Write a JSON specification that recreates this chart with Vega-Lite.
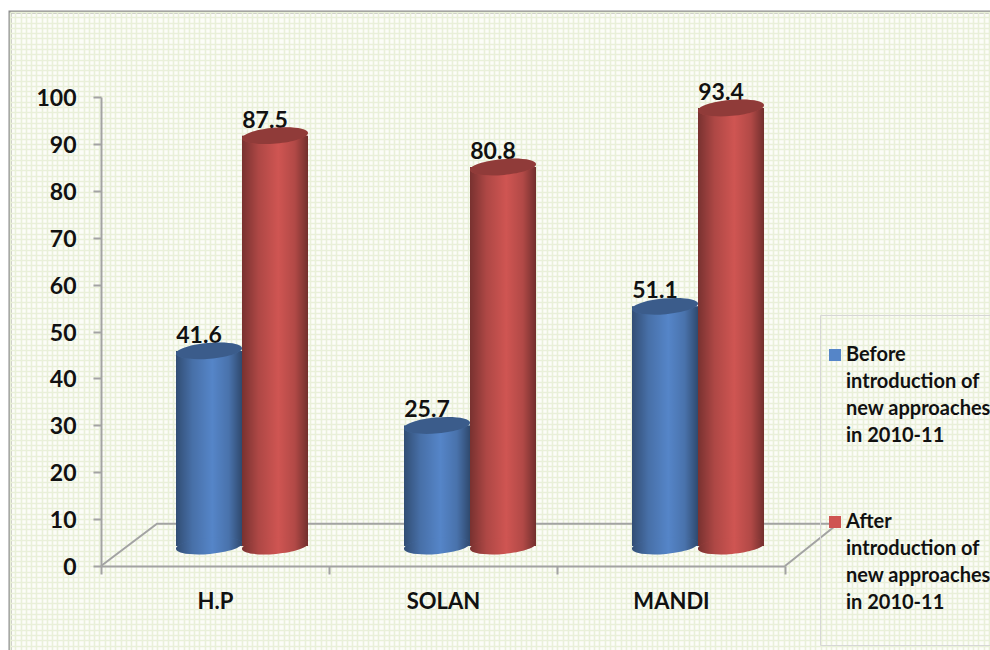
{
  "$schema": "https://vega.github.io/schema/vega-lite/v6.json",
  "width": 1000,
  "height": 660,
  "autosize": "none",
  "padding": {"left": 10, "top": 12, "right": 0, "bottom": 0},
  "background": "white",
  "config": {"view": {"fill": "#fcfdf8", "stroke": "#8c8c8c", "strokeWidth": 3}},
  "data": {"values": [
    {"region": "H.P", "series": "Before", "value": 41.6},
    {"region": "H.P", "series": "After", "value": 87.5},
    {"region": "SOLAN", "series": "Before", "value": 25.7},
    {"region": "SOLAN", "series": "After", "value": 80.8},
    {"region": "MANDI", "series": "Before", "value": 51.1},
    {"region": "MANDI", "series": "After", "value": 93.4}
  ]},
  "resolve": {
    "scale": {"x": "independent", "y": "independent"},
    "axis": {"x": "independent", "y": "independent"}
  },
  "layer": [
    {
      "description": "Fine woven background, built from two dense grids",
      "mark": {"type": "point", "opacity": 0},
      "encoding": {
        "x": {"datum": 0, "type": "quantitative",
          "scale": {"domain": [0, 190], "range": [0, 1000], "nice": false},
          "axis": {"title": null, "grid": true, "gridColor": "#e9f0d9", "gridWidth": 1.6, "tickCount": 190, "labels": false, "ticks": false, "domain": false, "orient": "top"}},
        "y": {"datum": 0, "type": "quantitative",
          "scale": {"domain": [0, 125], "range": [660, 0], "nice": false},
          "axis": {"title": null, "grid": true, "gridColor": "#e9f0d9", "gridWidth": 1.6, "tickCount": 125, "labels": false, "ticks": false, "domain": false, "orient": "right"}}
      }
    },
    {
      "description": "Floor of the 3-D plot; x counts category widths from the axis origin",
      "data": {"values": [
        {"step": 1, "cx": 0, "level": 0},
        {"step": 2, "cx": 0.2456, "level": 9},
        {"step": 3, "cx": 3.232, "level": 9},
        {"step": 4, "cx": 3, "level": 0}
      ]},
      "mark": {"type": "line", "color": "#a3a3a3", "strokeWidth": 2},
      "encoding": {
        "x": {"field": "cx", "type": "quantitative", "scale": {"domain": [0, 3], "range": [91, 775], "nice": false, "zero": false}, "axis": null},
        "y": {"field": "level", "type": "quantitative", "scale": {"domain": [0, 100], "range": [554, 85], "nice": false}, "axis": null},
        "order": {"field": "step", "type": "quantitative"}
      }
    },
    {
      "description": "Cylinders, value labels, axes and legend on the shared scales",
      "encoding": {
        "x": {"field": "region", "type": "nominal", "sort": null,
          "scale": {"type": "band", "domain": ["H.P", "SOLAN", "MANDI"], "range": [91, 775], "paddingInner": 0, "paddingOuter": 0},
          "axis": {"title": null, "orient": "bottom", "offset": -106, "labelAngle": 0, "tickBand": "extent", "tickColor": "#a3a3a3", "tickWidth": 2, "tickSize": 8, "domainColor": "#a3a3a3", "domainWidth": 2, "labelFont": "Lato", "labelFontWeight": "bold", "labelFontSize": 22, "labelColor": "#111111", "labelPadding": 17, "grid": false}},
        "xOffset": {"field": "series", "type": "nominal", "sort": null, "scale": {"domain": ["Before", "After"], "range": [75, 207]}},
        "y": {"field": "value", "type": "quantitative",
          "scale": {"domain": [0, 100], "range": [554, 85], "nice": false},
          "axis": {"title": null, "orient": "left", "offset": -91, "values": [0, 10, 20, 30, 40, 50, 60, 70, 80, 90, 100], "tickColor": "#a3a3a3", "tickWidth": 2, "tickSize": 8, "domainColor": "#a3a3a3", "domainWidth": 2, "labelFont": "Lato", "labelFontWeight": "bold", "labelFontSize": 23, "labelColor": "#111111", "labelPadding": 17, "labelOffset": 1.5, "grid": false}}
      },
      "layer": [
        {
          "mark": {"type": "text", "font": "Lato", "fontSize": 23, "fontWeight": "bold", "color": "#111111", "dy": -28, "dx": -10, "baseline": "alphabetic"},
          "encoding": {"text": {"field": "value", "type": "quantitative", "format": ".1f"}}
        },
        {
          "mark": {"type": "bar", "yOffset": -20, "y2Offset": -20},
          "encoding": {
            "color": {"field": "series", "type": "nominal", "sort": null,
              "scale": {"domain": ["Before", "After"], "range": ["#5585c8", "#cf5552"]},
              "legend": {
                "title": "\u00a0", "titleFontSize": 12, "titlePadding": 13,
                "orient": "none", "legendX": 810, "legendY": 303,
                "symbolType": "square", "symbolSize": 144, "symbolStrokeWidth": 0,
                "labelFont": "Lato", "labelFontWeight": "bold", "labelFontSize": 20, "labelColor": "#111111",
                "labelLimit": 400, "labelOffset": 1, "rowPadding": 39,
                "labelExpr": "datum.label == 'Before' ? ['\u2002Before', 'introduction of', 'new approaches', 'in 2010-11', ''] : ['After', 'introduction of', 'new approaches', 'in 2010-11', '']",
                "encode": {"labels": {"update": {"lineHeight": {"value": 27}}}},
                "strokeColor": "#d6d6d6", "padding": 5
              }}
          }
        },
        {
          "description": "Side shading of each cylinder",
          "mark": {"type": "bar", "yOffset": -20, "y2Offset": -20,
            "fill": {"gradient": "linear", "x1": 0, "y1": 0, "x2": 1, "y2": 0, "stops": [
              {"offset": 0, "color": "rgba(0,0,0,0.42)"},
              {"offset": 0.25, "color": "rgba(0,0,0,0.16)"},
              {"offset": 0.55, "color": "rgba(0,0,0,0)"},
              {"offset": 0.8, "color": "rgba(0,0,0,0.14)"},
              {"offset": 1, "color": "rgba(0,0,0,0.45)"}
            ]}}
        },
        {
          "description": "Rounded foot of each cylinder",
          "mark": {"type": "point", "filled": true, "opacity": 1, "yOffset": -20, "size": 4356,
            "shape": "M-1,0.09 A1,0.24 -5 1 1 1,-0.09 A1,0.24 -5 1 1 -1,0.09 Z"},
          "encoding": {
            "y": {"datum": 0, "type": "quantitative"},
            "color": {"field": "series", "type": "nominal", "sort": null, "legend": null}
          }
        },
        {
          "mark": {"type": "point", "filled": true, "opacity": 1, "yOffset": -20, "size": 4356,
            "shape": "M-1,0.09 A1,0.24 -5 1 1 1,-0.09 A1,0.24 -5 1 1 -1,0.09 Z",
            "fill": {"gradient": "linear", "x1": 0, "y1": 0, "x2": 1, "y2": 0, "stops": [
              {"offset": 0, "color": "rgba(0,0,0,0.42)"},
              {"offset": 0.25, "color": "rgba(0,0,0,0.16)"},
              {"offset": 0.55, "color": "rgba(0,0,0,0)"},
              {"offset": 0.8, "color": "rgba(0,0,0,0.14)"},
              {"offset": 1, "color": "rgba(0,0,0,0.45)"}
            ]}},
          "encoding": {"y": {"datum": 0, "type": "quantitative"}}
        },
        {
          "description": "Darker lid of each cylinder",
          "mark": {"type": "point", "filled": true, "opacity": 1, "yOffset": -20, "size": 4356,
            "shape": "M-1,0.09 A1,0.24 -5 1 1 1,-0.09 A1,0.24 -5 1 1 -1,0.09 Z"},
          "encoding": {
            "color": {"field": "series", "type": "nominal", "sort": null, "legend": null}
          }
        },
        {
          "mark": {"type": "point", "filled": true, "opacity": 0.3, "color": "#000000", "yOffset": -20, "size": 4356,
            "shape": "M-1,0.09 A1,0.24 -5 1 1 1,-0.09 A1,0.24 -5 1 1 -1,0.09 Z"}
        }
      ]
    }
  ]
}
